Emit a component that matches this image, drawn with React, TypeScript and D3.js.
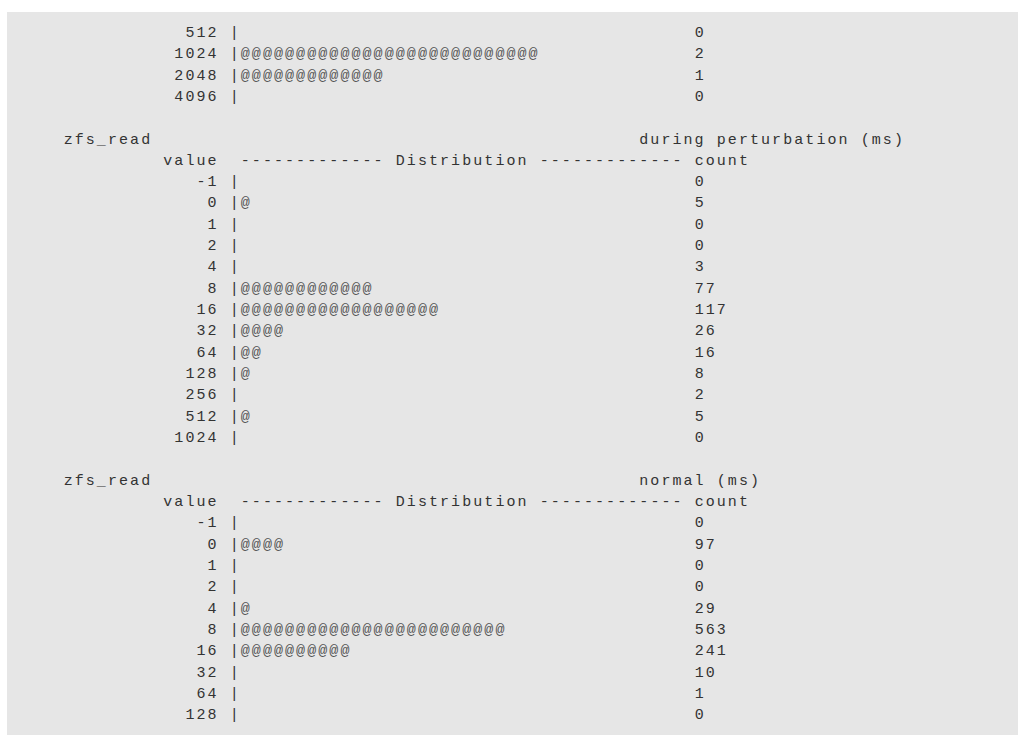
import React from "react";
import * as d3 from "d3";

// ---- data ----
const topValues = ["512", "1024", "2048", "4096"];
const topCounts = [0, 2, 1, 0];

const perturbTitle = "zfs_read";
const perturbLabel = "during perturbation (ms)";
const perturbValues = ["-1", "0", "1", "2", "4", "8", "16", "32", "64", "128", "256", "512", "1024"];
const perturbCounts = [0, 5, 0, 0, 3, 77, 117, 26, 16, 8, 2, 5, 0];

const normalTitle = "zfs_read";
const normalLabel = "normal (ms)";
const normalValues = ["-1", "0", "1", "2", "4", "8", "16", "32", "64", "128"];
const normalCounts = [0, 97, 0, 0, 29, 563, 241, 10, 1, 0];

const headerDist = "------------- Distribution -------------";

// ---- layout ----
const W = 1018;
const H = 735;
const FS = 15;
const ADV = 11.07;
const LS = ADV - 0.6 * FS;
const col = d3.scaleLinear().domain([0, 1]).range([41.5, 41.5 + ADV]);
const row = d3.scaleLinear().domain([0, 1]).range([31.7 + 5.2, 31.7 + 5.2 + 21.32]);
const TEXT = "#333333";
const AT = "#555555";

type Line =
  | { kind: "dist"; r: number; value: string; count: number; total: number }
  | { kind: "title"; r: number; title: string; label: string }
  | { kind: "header"; r: number };

function buildLines(): Line[] {
  const lines: Line[] = [];
  let r = 0;
  const topTotal = d3.sum(topCounts);
  topValues.forEach((v, i) => lines.push({ kind: "dist", r: r++, value: v, count: topCounts[i], total: topTotal }));
  r++;
  lines.push({ kind: "title", r: r++, title: perturbTitle, label: perturbLabel });
  lines.push({ kind: "header", r: r++ });
  const pTotal = d3.sum(perturbCounts);
  perturbValues.forEach((v, i) => lines.push({ kind: "dist", r: r++, value: v, count: perturbCounts[i], total: pTotal }));
  r++;
  lines.push({ kind: "title", r: r++, title: normalTitle, label: normalLabel });
  lines.push({ kind: "header", r: r++ });
  const nTotal = d3.sum(normalCounts);
  normalValues.forEach((v, i) => lines.push({ kind: "dist", r: r++, value: v, count: normalCounts[i], total: nTotal }));
  return lines;
}

const txt = (x: number, y: number, s: string, key: string, fill = TEXT) => (
  <text key={key} x={x} y={y} fill={fill} style={{ letterSpacing: `${LS}px`, whiteSpace: "pre" }}>
    {s}
  </text>
);

export default function App() {
  const lines = buildLines();
  return (
    <svg
      width={W}
      height={H}
      style={{ position: "absolute", left: 0, top: 0 }}
      fontFamily="'Liberation Mono', monospace"
      fontSize={FS}
    >
      <rect x={7} y={12} width={W - 7} height={H - 12} fill="#e6e6e6" />
      {lines.map((ln, i) => {
        const y = row(ln.r);
        if (ln.kind === "title") {
          return (
            <g key={i}>
              {txt(col(2), y, ln.title, "t")}
              {txt(col(54), y, ln.label, "l")}
            </g>
          );
        }
        if (ln.kind === "header") {
          return (
            <g key={i}>
              {txt(col(11), y, "value", "v")}
              {txt(col(18), y, headerDist, "d")}
              {txt(col(59), y, "count", "c")}
            </g>
          );
        }
        const bar = d3.scaleLinear().domain([0, ln.total]).range([0, 40]);
        const n = Math.round(bar(ln.count));
        return (
          <g key={i}>
            {txt(col(16 - ln.value.length), y, ln.value, "v")}
            {txt(col(17), y, "|", "p")}
            {n > 0 ? txt(col(18), y, "@".repeat(n), "a", AT) : null}
            {txt(col(59), y, String(ln.count), "c")}
          </g>
        );
      })}
    </svg>
  );
}
